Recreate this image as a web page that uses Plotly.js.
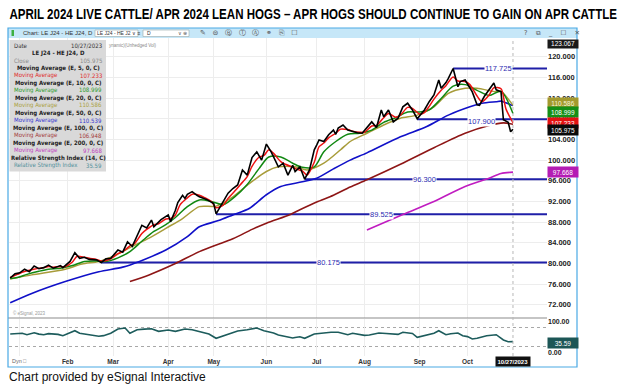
<!DOCTYPE html>
<html><head><meta charset="utf-8">
<script src="https://cdn.plot.ly/plotly-3.0.1.min.js"></script>
<style>html,body{margin:0;padding:0;background:#fff;} #chart{width:628px;height:390px;}</style>
</head><body><div id="chart"></div>
<script>
// ---------- DATA ----------
const priceDates = ['2022-12-27','2022-12-29','2023-01-03','2023-01-05','2023-01-09','2023-01-11','2023-01-13','2023-01-18','2023-01-20','2023-01-24','2023-01-27','2023-01-30','2023-02-02','2023-02-06','2023-02-08','2023-02-10','2023-02-14','2023-02-17','2023-02-22','2023-02-24','2023-02-28','2023-03-03','2023-03-07','2023-03-09','2023-03-13','2023-03-15','2023-03-17','2023-03-21','2023-03-23','2023-03-24','2023-03-29','2023-04-03','2023-04-04','2023-04-06','2023-04-10','2023-04-12','2023-04-13','2023-04-14','2023-04-18','2023-04-20','2023-04-21','2023-04-26','2023-05-01','2023-05-02','2023-05-04','2023-05-09','2023-05-11','2023-05-15','2023-05-17','2023-05-19','2023-05-23','2023-05-25','2023-05-30','2023-06-01','2023-06-05','2023-06-06','2023-06-08','2023-06-12','2023-06-14','2023-06-16','2023-06-20','2023-06-22','2023-06-23','2023-06-26','2023-06-28','2023-06-30','2023-07-03','2023-07-05','2023-07-07','2023-07-11','2023-07-13','2023-07-14','2023-07-17','2023-07-19','2023-07-21','2023-07-25','2023-07-27','2023-07-31','2023-08-02','2023-08-04','2023-08-08','2023-08-10','2023-08-11','2023-08-15','2023-08-17','2023-08-21','2023-08-23','2023-08-25','2023-08-29','2023-08-31','2023-09-06','2023-09-08','2023-09-12','2023-09-14','2023-09-15','2023-09-19','2023-09-20','2023-09-22','2023-09-26','2023-09-27','2023-09-29','2023-10-04','2023-10-06','2023-10-09','2023-10-11','2023-10-13','2023-10-17','2023-10-18','2023-10-20','2023-10-23','2023-10-25','2023-10-26','2023-10-27'];
const priceClose = [77.2,78.0,78.2,78.9,78.4,79.5,79.0,79.2,79.7,79.1,79.6,79.2,80.4,82.1,81.0,81.2,80.8,80.7,80.2,80.9,81.0,82.6,82.2,84.2,83.3,85.2,87.4,86.9,88.4,87.1,88.5,89.4,88.1,90.3,91.8,93.2,92.6,93.4,93.9,93.2,92.9,92.4,91.6,89.6,91.3,93.6,94.5,95.2,98.1,97.1,100.5,101.6,100.0,103.1,101.6,100.7,98.7,99.4,97.1,99.0,97.8,98.7,97.4,96.3,98.1,102.0,102.9,103.9,103.6,104.9,105.8,105.0,106.2,106.8,105.8,105.5,105.3,105.2,106.2,107.4,106.3,109.7,108.4,109.7,107.4,108.1,110.3,111.0,109.7,108.0,109.7,111.3,112.6,115.5,113.9,115.0,115.8,117.725,114.2,115.2,115.5,113.2,110.7,110.6,112.3,113.6,114.9,113.6,113.2,107.8,107.3,105.5,105.975];

const ma5Dates = ['2022-12-27','2022-12-30','2023-01-04','2023-01-06','2023-01-10','2023-01-13','2023-01-18','2023-01-20','2023-01-24','2023-01-27','2023-01-31','2023-02-03','2023-02-07','2023-02-10','2023-02-14','2023-02-17','2023-02-22','2023-02-24','2023-02-28','2023-03-03','2023-03-07','2023-03-10','2023-03-14','2023-03-17','2023-03-21','2023-03-24','2023-03-28','2023-03-31','2023-04-04','2023-04-06','2023-04-11','2023-04-14','2023-04-18','2023-04-21','2023-04-25','2023-04-28','2023-05-02','2023-05-05','2023-05-09','2023-05-12','2023-05-16','2023-05-19','2023-05-23','2023-05-26','2023-05-31','2023-06-02','2023-06-06','2023-06-09','2023-06-13','2023-06-16','2023-06-21','2023-06-23','2023-06-27','2023-06-30','2023-07-05','2023-07-07','2023-07-11','2023-07-14','2023-07-18','2023-07-21','2023-07-25','2023-07-28','2023-08-01','2023-08-04','2023-08-08','2023-08-11','2023-08-15','2023-08-18','2023-08-22','2023-08-25','2023-08-29','2023-09-01','2023-09-06','2023-09-08','2023-09-12','2023-09-15','2023-09-19','2023-09-22','2023-09-26','2023-09-29','2023-10-03','2023-10-06','2023-10-10','2023-10-13','2023-10-17','2023-10-20','2023-10-24','2023-10-27'];
const ma5Values = [77.3,77.9,78.3,78.6,78.8,79.1,79.2,79.4,79.3,79.4,79.4,80.3,81.4,81.2,81.0,80.8,80.5,80.6,80.9,81.9,82.3,83.4,83.9,85.8,86.6,87.5,87.7,88.6,88.7,89.4,91.4,92.7,93.4,93.2,92.8,92.0,90.8,91.3,92.6,94.1,95.2,96.8,98.8,100.6,100.9,102.0,101.3,99.7,99.2,98.6,98.2,97.9,97.1,99.6,102.6,103.3,104.3,105.2,106.0,105.9,105.6,105.4,105.4,106.6,106.7,108.2,109.0,108.3,108.7,110.2,110.0,108.9,109.2,110.4,111.8,113.5,114.4,116.1,115.3,115.2,114.6,112.4,111.3,112.6,114.0,113.8,110.0,107.233];

const ma10Dates = ['2022-12-27','2022-12-30','2023-01-06','2023-01-13','2023-01-20','2023-01-27','2023-02-03','2023-02-10','2023-02-17','2023-02-24','2023-03-03','2023-03-10','2023-03-17','2023-03-24','2023-03-31','2023-04-06','2023-04-14','2023-04-21','2023-04-28','2023-05-05','2023-05-12','2023-05-19','2023-05-26','2023-06-02','2023-06-09','2023-06-16','2023-06-23','2023-06-30','2023-07-07','2023-07-14','2023-07-21','2023-07-28','2023-08-04','2023-08-11','2023-08-18','2023-08-25','2023-09-01','2023-09-08','2023-09-15','2023-09-22','2023-09-29','2023-10-06','2023-10-13','2023-10-20','2023-10-27'];
const ma10Values = [77.1,77.3,77.9,78.5,78.9,79.1,79.6,80.4,80.5,80.4,81.1,82.3,84.3,86.2,87.5,88.9,91.0,92.3,92.0,91.4,93.0,95.3,98.4,100.6,100.6,99.4,98.6,98.7,101.6,103.6,105.0,105.2,105.8,107.3,108.2,109.3,109.3,109.7,111.9,114.3,114.6,113.5,112.5,113.3,108.999];

const ma20Dates = ['2022-12-27','2023-01-10','2023-01-31','2023-02-09','2023-02-21','2023-03-02','2023-03-13','2023-03-22','2023-03-31','2023-04-12','2023-04-21','2023-05-02','2023-05-11','2023-05-22','2023-06-01','2023-06-08','2023-06-20','2023-06-27','2023-07-07','2023-07-18','2023-07-24','2023-08-02','2023-08-11','2023-08-22','2023-08-31','2023-09-12','2023-09-20','2023-09-29','2023-10-06','2023-10-18','2023-10-20','2023-10-27'];
const ma20Values = [77.0,77.8,78.9,79.9,80.4,81.6,83.3,84.9,86.8,88.7,91.0,91.1,92.9,95.5,97.8,98.7,98.7,98.1,99.4,102.0,103.6,105.2,106.8,108.1,108.7,110.3,112.9,113.9,113.9,113.2,113.3,110.586];

const ma50Dates = ['2022-12-27','2023-01-10','2023-01-31','2023-02-21','2023-03-07','2023-03-16','2023-03-31','2023-04-14','2023-04-21','2023-05-03','2023-05-11','2023-05-22','2023-06-01','2023-06-09','2023-06-23','2023-07-03','2023-07-13','2023-07-24','2023-08-02','2023-08-22','2023-09-07','2023-09-20','2023-10-03','2023-10-10','2023-10-18','2023-10-20','2023-10-27'];
const ma50Values = [72.4,74.2,76.5,78.4,79.3,80.4,82.6,85.2,87.1,88.3,89.4,90.7,93.3,94.9,95.8,96.5,98.3,100.0,101.4,104.5,106.5,108.7,110.3,111.0,111.3,111.4,110.539];

const ma100Dates = ['2023-03-10','2023-03-22','2023-04-06','2023-04-21','2023-05-11','2023-05-23','2023-06-01','2023-06-15','2023-06-22','2023-07-03','2023-07-13','2023-07-24','2023-08-02','2023-08-22','2023-09-12','2023-09-29','2023-10-13','2023-10-23','2023-10-27'];
const ma100Values = [76.5,77.8,80.0,82.3,84.8,86.6,87.8,89.5,90.4,91.9,93.2,94.8,96.2,99.2,102.4,105.2,106.7,107.2,106.948];

const ma200Dates = ['2023-08-02','2023-08-23','2023-09-12','2023-09-29','2023-10-13','2023-10-20','2023-10-27'];
const ma200Values = [86.5,89.5,92.0,94.9,96.5,97.4,97.668];

const rsiDates = ['2022-12-27','2023-01-04','2023-01-06','2023-01-09','2023-01-11','2023-01-13','2023-01-18','2023-01-20','2023-01-24','2023-01-26','2023-01-30','2023-02-06','2023-02-08','2023-02-14','2023-02-16','2023-02-21','2023-02-23','2023-02-28','2023-03-03','2023-03-08','2023-03-10','2023-03-14','2023-03-15','2023-03-20','2023-03-23','2023-03-28','2023-04-03','2023-04-06','2023-04-11','2023-04-13','2023-04-18','2023-04-21','2023-04-27','2023-05-02','2023-05-05','2023-05-11','2023-05-15','2023-05-19','2023-05-23','2023-05-25','2023-05-31','2023-06-06','2023-06-08','2023-06-13','2023-06-16','2023-06-20','2023-06-22','2023-06-26','2023-06-30','2023-07-07','2023-07-12','2023-07-17','2023-07-19','2023-07-21','2023-07-25','2023-07-27','2023-08-01','2023-08-03','2023-08-09','2023-08-14','2023-08-17','2023-08-21','2023-08-23','2023-08-29','2023-08-31','2023-09-07','2023-09-12','2023-09-14','2023-09-19','2023-09-21','2023-09-26','2023-09-28','2023-10-02','2023-10-04','2023-10-06','2023-10-12','2023-10-16','2023-10-18','2023-10-23','2023-10-25','2023-10-27'];
const rsiValues = [60.3,62.6,58.0,61.0,64.5,60.0,58.0,61.5,60.3,59.0,54.8,71.0,62.6,58.0,57.0,52.9,55.0,62.6,76.5,79.7,62.6,70.0,74.2,76.0,77.4,69.0,73.2,69.0,74.0,76.5,74.0,69.0,60.3,46.5,54.8,65.8,70.0,74.2,76.0,79.7,71.0,63.5,57.0,51.6,47.4,49.0,51.6,46.5,60.3,63.5,66.0,65.8,62.0,58.0,62.5,60.0,56.0,57.0,63.5,62.0,60.3,59.0,65.8,62.0,49.7,58.0,63.0,71.0,58.0,61.0,63.5,54.8,52.0,44.2,46.5,54.8,57.0,58.0,41.0,35.5,35.59];

const supportLevels = [117.725, 107.900, 96.300, 89.525, 80.175];
const supportStart = ['2023-09-22','2023-08-31','2023-06-26','2023-05-02','2023-02-22'];
const supportLabels = ['117.725','107.900','96.300','89.525','80.175'];

const monthTickDates = ['2023-01-03','2023-02-01','2023-03-01','2023-04-03','2023-05-01','2023-06-01','2023-07-03','2023-08-01','2023-09-01','2023-10-02'];
const monthTickLabels = ['','Feb','Mar','Apr','May','Jun','Jul','Aug','Sep','Oct'];
const priceTicks = [72,76,80,84,88,92,96,100,104,108,112,116,120];
const holidays = ['2022-12-26','2023-01-02','2023-01-16','2023-02-20','2023-04-07','2023-05-29','2023-06-19','2023-07-04','2023-09-04'];

const lastValues = {close:105.975, ma5:107.233, ma10:108.999, ma20:110.586, ma50:110.539, ma100:106.948, ma200:97.668, rsi:35.59, high:123.067};

// ---------- HELPERS ----------
const L = 9, R = 547, T = 38, B = 356;
const px = X => (X - L) / (R - L);
const py = Y => (B - Y) / (B - T);
const NARROW = 'Liberation Sans Narrow, DejaVu Sans Condensed, Liberation Sans, sans-serif';
const SANS = 'Liberation Sans, Arial, sans-serif';
const TITLE = 'APRIL 2024 LIVE CATTLE/ APR 2024 LEAN HOGS \u2013 APR HOGS SHOULD CONTINUE TO GAIN ON APR CATTLE';

const cMA5 = '#ee1111', cMA10 = '#118811', cMA20 = '#a89c3a', cMA50 = '#1010c8', cMA100 = '#8e1616', cMA200 = '#c01cc0', cSup = '#1f1fa8', cRSI = '#1d5c5c';

// ---------- TRACES ----------
const traces = [];
supportLevels.forEach((lv, i) => {
  traces.push({x:[supportStart[i], '2023-11-17'], y:[lv, lv], type:'scatter', mode:'lines', line:{color:cSup, width:2}, xaxis:'x', yaxis:'y'});
});
const ln = (x, y, color, w, shape) => ({x, y, type:'scatter', mode:'lines', line:{color, width:w, shape:shape||'linear', smoothing:0.8}, xaxis:'x', yaxis:'y'});
traces.push(ln(ma200Dates, ma200Values, cMA200, 1.6, 'spline'));
traces.push(ln(ma100Dates, ma100Values, cMA100, 1.6, 'spline'));
traces.push(ln(ma50Dates, ma50Values, cMA50, 1.6, 'spline'));
traces.push(ln(ma20Dates, ma20Values, cMA20, 1.5, 'spline'));
traces.push(ln(ma10Dates, ma10Values, cMA10, 1.5, 'spline'));
traces.push(ln(ma5Dates, ma5Values, cMA5, 1.5, 'spline'));
traces.push(ln(priceDates, priceClose, '#000000', 1.6, 'linear'));
traces.push({x:rsiDates, y:rsiValues, type:'scatter', mode:'lines', line:{color:cRSI, width:1.6}, xaxis:'x', yaxis:'y2'});

// ---------- ANNOTATIONS ----------
const ann = [];
const txt = (X, Y, text, o) => Object.assign({xref:'paper', yref:'paper', x:px(X), y:py(Y), text, showarrow:false, xanchor:'left', yanchor:'middle', font:{family:SANS, size:6, color:'#333'}}, o||{});

// title
ann.push(txt(313, 14.5, TITLE, {xanchor:'center', font:{family:SANS, size:14, color:'#000', weight:'bold'}}));
// footer
ann.push(txt(7, 377, 'Chart provided by eSignal Interactive', {font:{family:SANS, size:12, color:'#111'}}));
// toolbar
ann.push(txt(21, 33, 'Chart: LE J24 - HE J24, D', {font:{family:SANS, size:6, color:'#333'}}));
ann.push(txt(95, 33.2, 'LE J24 - HE J2 \u2228 \u2261', {font:{family:SANS, size:5, color:'#333'}}));
ann.push(txt(145, 33.2, 'D', {font:{family:SANS, size:5, color:'#333'}}));
ann.push(txt(176, 33.2, '\u2228 \u229b', {font:{family:SANS, size:5, color:'#555'}}));
ann.push(txt(198, 33, '\u270e   \u229c   \u24b7   \u24c9   \u24b6   \u26ad   \u2398   \u2610', {font:{family:'DejaVu Sans, sans-serif', size:7, color:'#555'}}));
ann.push(txt(522, 33, '?    \u29c9    _    \u2610    \u2715', {font:{family:'DejaVu Sans, sans-serif', size:6.5, color:'#555'}}));
ann.push(txt(107, 45, 'ynamic)(Unhedged Vol)', {font:{family:SANS, size:4.5, color:'#888'}}));
ann.push(txt(11, 313, '\u00a9 eSignal, 2023', {font:{family:SANS, size:4.5, color:'#999'}}));
ann.push(txt(10, 361, 'Dyn \u2395', {font:{family:SANS, size:5.5, color:'#666'}}));

// legend box text
const rowY = i => 45 + 7.5 * i;
const legendRows = [
  ['Date', '10/27/2023', '#333', '#333', false],
  ['LE J24 - HE J24, D', null, '#222', null, true],
  ['Close', lastValues.close.toFixed(3), '#8a8a8a', '#8a8a8a', false],
  ['Moving Average (E, 5, 0, C)', null, '#222', null, true],
  ['Moving Average', lastValues.ma5.toFixed(3), '#e02a2a', '#e02a2a', false],
  ['Moving Average (E, 10, 0, C)', null, '#222', null, true],
  ['Moving Average', lastValues.ma10.toFixed(3), '#2a9a2a', '#2a9a2a', false],
  ['Moving Average (E, 20, 0, C)', null, '#222', null, true],
  ['Moving Average', lastValues.ma20.toFixed(3), '#aaa040', '#aaa040', false],
  ['Moving Average (E, 50, 0, C)', null, '#222', null, true],
  ['Moving Average', lastValues.ma50.toFixed(3), '#3535d0', '#3535d0', false],
  ['Moving Average (E, 100, 0, C)', null, '#222', null, true],
  ['Moving Average', lastValues.ma100.toFixed(3), '#a33a3a', '#a33a3a', false],
  ['Moving Average (E, 200, 0, C)', null, '#222', null, true],
  ['Moving Average', lastValues.ma200.toFixed(3), '#c040c0', '#c040c0', false],
  ['Relative Strength Index (14, C)', null, '#222', null, true],
  ['Relative Strength Index', lastValues.rsi.toFixed(2), '#4f8f99', '#4f8f99', false]
];
legendRows.forEach((r, i) => {
  if (r[4]) {
    ann.push(txt(58, rowY(i), r[0], {xanchor:'center', font:{family:NARROW, size:6, color:r[2], weight:'bold'}}));
  } else {
    ann.push(txt(12, rowY(i), r[0], {font:{family:NARROW, size:6, color:r[2]}}));
    ann.push(txt(104, rowY(i), r[1], {xanchor:'right', font:{family:NARROW, size:6, color:r[3]}}));
  }
});

// right value boxes
const vbox = (Y, text, bg, fg, h) => txt(547, Y, text, {xanchor:'left', width:28, height:h||8, borderpad:1, bgcolor:bg, align:'center', valign:'middle', font:{family:SANS, size:6.5, color:fg||'#fff'}});
ann.push(vbox(44.4, lastValues.high.toFixed(3), '#1a1a1a', '#fff', 5.5));
ann.push(vbox(103, lastValues.ma20.toFixed(3), '#a39a2e', '#f4f4d8'));
ann.push(vbox(112, lastValues.ma10.toFixed(3), '#168f16', '#fff'));
ann.push(vbox(122.5, lastValues.ma5.toFixed(3), '#e31212', '#fff'));
ann.push(vbox(129.5, lastValues.close.toFixed(3), '#0a0a0a', '#fff'));
ann.push(vbox(171.7, lastValues.ma200.toFixed(3), '#b41cb4', '#fff'));
ann.push(vbox(342.5, lastValues.rsi.toFixed(2), '#1c5656', '#fff'));

// support labels
const labelDates = ['2023-10-19','2023-10-10','2023-09-06','2023-08-10','2023-07-11'];
supportLevels.forEach((lv, i) => {
  ann.push({xref:'x', yref:'y', x:labelDates[i], y:lv, text:supportLabels[i], showarrow:false, xanchor:'center', yanchor:'middle', yshift:(i===1?-2:0), bgcolor:'#ffffff', borderpad:0, font:{family:SANS, size:7.5, color:'#2b2bb0'}});
});
// date box
ann.push({xref:'x', yref:'paper', x:'2023-10-27', y:py(361.3), text:'10/27/2023', showarrow:false, xanchor:'center', yanchor:'middle', bgcolor:'#111', borderpad:1.5, font:{family:SANS, size:6, color:'#fff', weight:'bold'}});

// ---------- SHAPES ----------
const shapes = [
  {type:'rect', xref:'paper', yref:'paper', x0:px(8), x1:px(577), y0:py(38), y1:py(28), fillcolor:'#c6e7f8', line:{width:0}, layer:'below'},
  {type:'rect', xref:'paper', yref:'paper', x0:px(95), x1:px(138), y0:py(36.5), y1:py(30), fillcolor:'#fff', line:{width:0.6, color:'#9aa'}},
  {type:'rect', xref:'paper', yref:'paper', x0:px(143), x1:px(189), y0:py(36.5), y1:py(30), fillcolor:'#fff', line:{width:0.6, color:'#9aa'}},
  {type:'rect', xref:'paper', yref:'paper', x0:px(11.5), x1:px(14), y0:py(36), y1:py(30), fillcolor:'#3cb043', line:{width:0}},
  {type:'rect', xref:'paper', yref:'paper', x0:px(9.5), x1:px(106), y0:py(171.5), y1:py(40), fillcolor:'#d9d9d9', line:{width:0}},
  {type:'line', xref:'paper', yref:'paper', x0:px(8), x1:px(547), y0:py(318), y1:py(318), line:{color:'#8c8c8c', width:1.2}},
  {type:'line', xref:'x', yref:'paper', x0:'2023-10-27', x1:'2023-10-27', y0:0, y1:1, line:{color:'#b8b8b8', width:1, dash:'dot'}},
  {type:'rect', xref:'paper', yref:'paper', x0:px(8), x1:px(577), y0:py(367), y1:py(28), line:{color:'#4aa9e4', width:1.2}, fillcolor:'rgba(0,0,0,0)', layer:'above'}
];

const layout = {
  width:628, height:390, margin:{l:L, r:628-R, t:T, b:390-B, pad:0},
  paper_bgcolor:'#ffffff', plot_bgcolor:'#ffffff', showlegend:false, hovermode:false,
  font:{family:SANS, color:'#222'},
  xaxis:{type:'date', range:['2022-12-23 12:00','2023-11-16 05:00'], rangebreaks:[{bounds:['sat','mon']},{values:holidays}],
    tickvals:monthTickDates, ticktext:monthTickLabels, showgrid:true, gridcolor:'#ededed', gridwidth:1, ticks:'', showline:false, zeroline:false,
    anchor:'y2', tickfont:{family:SANS, size:6.5, color:'#333', weight:'bold'}, fixedrange:true},
  yaxis:{domain:[py(318), 1], range:[69.46, 123.62], side:'right', anchor:'x', tickvals:priceTicks, ticktext:priceTicks.map(v => v.toFixed(3)),
    showgrid:true, gridcolor:'#ededed', zeroline:false, ticks:'', showline:false, tickfont:{family:SANS, size:7.5, color:'#222', weight:'bold'}},
  yaxis2:{domain:[0, py(319)], range:[-10.6, 108.7], side:'right', anchor:'x', tickvals:[0,100], ticktext:['0.00','100.00'],
    showgrid:false, zeroline:false, ticks:'', showline:false, tickfont:{family:SANS, size:7, color:'#222', weight:'bold'},
    minor:{tickvals:[20,80], showgrid:true, gridcolor:'#a8a8a8', griddash:'dot', gridwidth:1, ticks:''}},
  annotations:ann, shapes:shapes
};

Plotly.newPlot('chart', traces, layout, {staticPlot:true, displayModeBar:false}).then(() => {
  // condense the title horizontally so it spans the reference width (narrow-font look)
  const el = Array.from(document.querySelectorAll('.annotation-text')).find(t => t.textContent.indexOf('APRIL 2024') === 0);
  if (el) {
    const bb = el.getBBox();
    const s = 608 / bb.width;
    const cx = bb.x + bb.width / 2;
    const prev = el.getAttribute('transform') || '';
    el.setAttribute('transform', 'matrix(' + s + ',0,0,1,' + (cx * (1 - s)) + ',0) ' + prev);
  }
});
</script>
</body></html>
